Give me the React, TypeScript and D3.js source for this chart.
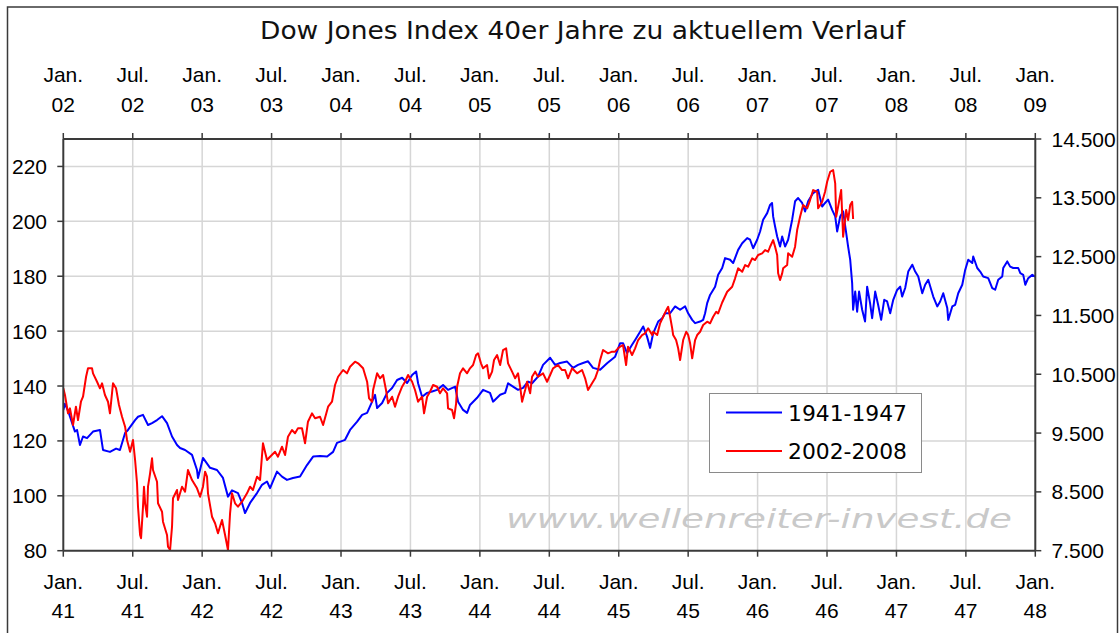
import React from "react";
import * as d3 from "d3";

// 1941-1947 Dow Jones (left axis), [decimal year, index]
const series1941: [number, number][] = [
  [1941.000, 131.3], [1941.012, 133.5], [1941.034, 131.0], [1941.084, 123.4], [1941.099, 124.0],
  [1941.120, 118.5], [1941.142, 121.6], [1941.171, 121.0], [1941.214, 123.4], [1941.264, 124.0],
  [1941.286, 116.7], [1941.336, 116.0], [1941.380, 117.2], [1941.408, 116.7], [1941.445, 122.9],
  [1941.466, 124.0], [1941.517, 127.6], [1941.538, 128.8], [1941.574, 129.5], [1941.610, 125.8],
  [1941.639, 126.5], [1941.675, 127.6], [1941.711, 129.0], [1941.747, 126.5], [1941.783, 121.6],
  [1941.819, 118.5], [1941.841, 117.4], [1941.877, 116.7], [1941.927, 114.9], [1941.963, 109.4],
  [1941.970, 106.5], [1942.006, 113.8], [1942.057, 110.2], [1942.107, 109.4], [1942.150, 106.5],
  [1942.186, 99.7], [1942.215, 102.0], [1942.258, 101.0], [1942.287, 97.4], [1942.309, 93.7],
  [1942.345, 97.4], [1942.395, 101.0], [1942.431, 104.0], [1942.467, 105.2], [1942.489, 102.8],
  [1942.539, 108.8], [1942.575, 107.0], [1942.611, 105.8], [1942.654, 106.5], [1942.705, 107.0],
  [1942.755, 111.2], [1942.799, 114.3], [1942.849, 114.5], [1942.900, 114.3], [1942.943, 116.0],
  [1942.971, 119.3], [1943.029, 120.4], [1943.065, 124.0], [1943.116, 127.0], [1943.152, 129.5],
  [1943.188, 130.2], [1943.224, 134.3], [1943.245, 136.8], [1943.260, 132.0], [1943.296, 133.8],
  [1943.332, 137.5], [1943.368, 139.3], [1943.404, 142.2], [1943.440, 143.0], [1943.476, 141.1],
  [1943.512, 144.0], [1943.541, 145.3], [1943.555, 141.0], [1943.584, 136.1], [1943.620, 137.5],
  [1943.656, 138.0], [1943.692, 138.6], [1943.735, 140.4], [1943.771, 138.6], [1943.822, 139.8],
  [1943.843, 134.3], [1943.879, 131.3], [1943.908, 130.2], [1943.929, 133.1], [1943.980, 135.7],
  [1944.023, 138.6], [1944.073, 137.5], [1944.095, 134.3], [1944.146, 136.8], [1944.182, 137.5],
  [1944.203, 141.0], [1944.239, 139.8], [1944.275, 138.6], [1944.311, 139.3], [1944.347, 141.6],
  [1944.376, 141.0], [1944.419, 143.4], [1944.455, 147.7], [1944.506, 150.3], [1944.542, 147.7],
  [1944.578, 148.4], [1944.628, 148.9], [1944.671, 146.6], [1944.707, 147.7], [1944.743, 148.4],
  [1944.779, 149.0], [1944.815, 146.6], [1944.866, 145.9], [1944.916, 148.3], [1944.974, 150.7],
  [1945.010, 155.6], [1945.031, 155.6], [1945.060, 152.0], [1945.096, 155.0], [1945.118, 156.8],
  [1945.154, 159.8], [1945.176, 161.7], [1945.204, 158.0], [1945.226, 153.9], [1945.248, 159.2],
  [1945.284, 163.5], [1945.313, 164.7], [1945.334, 166.5], [1945.370, 166.5], [1945.406, 169.0],
  [1945.442, 167.8], [1945.478, 169.0], [1945.500, 166.5], [1945.529, 164.1], [1945.550, 162.9],
  [1945.586, 163.5], [1945.608, 164.1], [1945.622, 166.5], [1945.637, 170.2], [1945.658, 173.2],
  [1945.694, 176.2], [1945.716, 180.5], [1945.745, 183.0], [1945.766, 186.6], [1945.802, 186.0],
  [1945.824, 184.8], [1945.860, 189.6], [1945.889, 192.0], [1945.925, 193.9], [1945.946, 193.3],
  [1945.968, 190.2], [1945.997, 193.3], [1946.018, 196.3], [1946.040, 200.6], [1946.069, 203.0],
  [1946.090, 206.0], [1946.104, 206.7], [1946.112, 201.8], [1946.126, 198.1], [1946.141, 194.5],
  [1946.162, 190.8], [1946.177, 194.5], [1946.198, 190.8], [1946.220, 193.3], [1946.249, 200.6],
  [1946.270, 207.3], [1946.292, 208.5], [1946.321, 206.7], [1946.342, 203.6], [1946.364, 207.3],
  [1946.400, 210.3], [1946.436, 211.5], [1946.465, 205.4], [1946.486, 206.7], [1946.508, 207.9],
  [1946.537, 204.2], [1946.559, 201.8], [1946.573, 196.3], [1946.595, 201.8], [1946.616, 203.6],
  [1946.638, 195.8], [1946.652, 190.8], [1946.667, 186.0], [1946.681, 177.5], [1946.688, 167.8],
  [1946.703, 174.4], [1946.717, 167.1], [1946.731, 174.4], [1946.753, 167.8], [1946.774, 163.5],
  [1946.789, 176.2], [1946.810, 170.2], [1946.825, 164.7], [1946.847, 174.4], [1946.868, 169.6],
  [1946.890, 164.1], [1946.912, 171.4], [1946.933, 170.8], [1946.955, 166.5], [1946.977, 171.4],
  [1947.005, 175.0], [1947.027, 176.2], [1947.041, 172.6], [1947.063, 175.7], [1947.085, 181.7],
  [1947.114, 184.2], [1947.135, 181.7], [1947.157, 179.9], [1947.186, 173.8], [1947.207, 176.9],
  [1947.229, 178.7], [1947.265, 172.6], [1947.294, 169.0], [1947.315, 170.8], [1947.337, 173.8],
  [1947.366, 168.4], [1947.373, 164.1], [1947.402, 169.0], [1947.423, 169.6], [1947.445, 173.8],
  [1947.474, 176.9], [1947.495, 182.3], [1947.517, 186.0], [1947.546, 184.8], [1947.553, 187.2],
  [1947.582, 183.0], [1947.603, 181.7], [1947.625, 179.9], [1947.661, 179.3], [1947.690, 175.7],
  [1947.711, 175.1], [1947.733, 178.7], [1947.762, 179.9], [1947.769, 183.0], [1947.798, 185.4],
  [1947.819, 183.5], [1947.841, 183.0], [1947.877, 183.0], [1947.892, 181.1], [1947.913, 180.5],
  [1947.928, 176.9], [1947.949, 179.3], [1947.978, 180.5], [1948.000, 179.9],
];

// 2002-2008 Dow Jones (right axis), [decimal year, index]
const series2002: [number, number][] = [
  [2002.000, 10261], [2002.012, 10147], [2002.034, 9836], [2002.048, 9921], [2002.070, 9637],
  [2002.091, 9948], [2002.106, 9722], [2002.127, 10033], [2002.142, 10118], [2002.164, 10458],
  [2002.178, 10601], [2002.207, 10601], [2002.214, 10516], [2002.243, 10373], [2002.264, 10261],
  [2002.279, 10346], [2002.300, 10147], [2002.322, 10033], [2002.336, 9836], [2002.358, 10346],
  [2002.380, 10261], [2002.401, 9977], [2002.423, 9778], [2002.445, 9608], [2002.459, 9382],
  [2002.481, 9183], [2002.502, 9382], [2002.517, 9042], [2002.531, 8646], [2002.538, 8248],
  [2002.553, 7767], [2002.560, 7711], [2002.574, 8248], [2002.581, 8588], [2002.589, 8306],
  [2002.603, 8078], [2002.610, 8588], [2002.625, 8816], [2002.639, 9071], [2002.646, 8872],
  [2002.675, 8673], [2002.682, 8306], [2002.711, 8163], [2002.718, 7993], [2002.747, 7767],
  [2002.754, 7568], [2002.769, 7512], [2002.783, 7908], [2002.790, 8391], [2002.819, 8532],
  [2002.826, 8362], [2002.855, 8588], [2002.877, 8503], [2002.898, 8872], [2002.927, 8702],
  [2002.963, 8561], [2002.985, 8418], [2003.006, 8588], [2003.021, 8843], [2003.035, 8758],
  [2003.042, 8476], [2003.071, 8078], [2003.093, 7966], [2003.114, 7796], [2003.143, 8022],
  [2003.165, 7767], [2003.186, 7512], [2003.201, 8136], [2003.215, 8476], [2003.237, 8306],
  [2003.258, 8248], [2003.287, 8333], [2003.323, 8476], [2003.345, 8588], [2003.366, 8532],
  [2003.395, 8758], [2003.417, 8702], [2003.438, 9326], [2003.467, 9042], [2003.489, 9098],
  [2003.525, 9183], [2003.546, 9098], [2003.575, 9268], [2003.597, 9127], [2003.618, 9438],
  [2003.647, 9552], [2003.669, 9496], [2003.690, 9581], [2003.719, 9581], [2003.741, 9326],
  [2003.762, 9693], [2003.791, 9836], [2003.813, 9751], [2003.849, 9778], [2003.871, 9637],
  [2003.907, 9948], [2003.935, 10033], [2003.957, 10317], [2003.979, 10458], [2004.015, 10572],
  [2004.043, 10516], [2004.065, 10628], [2004.101, 10713], [2004.123, 10686], [2004.159, 10601],
  [2004.188, 10373], [2004.202, 10091], [2004.224, 10033], [2004.231, 10232], [2004.260, 10516],
  [2004.281, 10431], [2004.303, 10487], [2004.324, 10232], [2004.339, 10006], [2004.368, 10118],
  [2004.389, 9948], [2004.411, 10118], [2004.440, 10288], [2004.461, 10373], [2004.483, 10487],
  [2004.512, 10373], [2004.533, 10232], [2004.555, 10033], [2004.584, 10118], [2004.598, 9836],
  [2004.620, 10118], [2004.641, 10203], [2004.663, 10317], [2004.692, 10288], [2004.713, 10176],
  [2004.735, 10261], [2004.764, 10176], [2004.771, 9921], [2004.800, 9892], [2004.814, 9751],
  [2004.829, 10006], [2004.836, 10288], [2004.857, 10516], [2004.879, 10601], [2004.908, 10516],
  [2004.929, 10601], [2004.951, 10657], [2004.973, 10827], [2004.987, 10856], [2005.008, 10686],
  [2005.023, 10601], [2005.052, 10657], [2005.066, 10431], [2005.088, 10544], [2005.102, 10742],
  [2005.124, 10827], [2005.146, 10657], [2005.167, 10912], [2005.189, 10941], [2005.203, 10686],
  [2005.232, 10544], [2005.254, 10431], [2005.275, 10516], [2005.290, 10288], [2005.304, 10033],
  [2005.326, 10232], [2005.340, 10373], [2005.362, 10176], [2005.376, 10458], [2005.398, 10544],
  [2005.419, 10458], [2005.455, 10516], [2005.484, 10373], [2005.506, 10487], [2005.527, 10601],
  [2005.563, 10657], [2005.592, 10572], [2005.614, 10572], [2005.635, 10431], [2005.664, 10601],
  [2005.700, 10516], [2005.736, 10572], [2005.758, 10431], [2005.779, 10232], [2005.808, 10346],
  [2005.830, 10431], [2005.851, 10572], [2005.866, 10742], [2005.887, 10912], [2005.923, 10856],
  [2005.952, 10884], [2005.974, 10884], [2005.995, 10941], [2006.010, 10969], [2006.031, 10997],
  [2006.053, 10657], [2006.067, 10969], [2006.096, 10827], [2006.118, 10941], [2006.140, 11082],
  [2006.168, 11167], [2006.190, 11196], [2006.212, 11281], [2006.241, 11167], [2006.248, 11223],
  [2006.277, 11167], [2006.298, 11366], [2006.320, 11478], [2006.349, 11620], [2006.356, 11648],
  [2006.370, 11478], [2006.385, 11281], [2006.392, 11167], [2006.413, 11082], [2006.428, 10941],
  [2006.442, 10742], [2006.464, 11082], [2006.486, 11223], [2006.500, 11167], [2006.514, 11026],
  [2006.529, 10771], [2006.550, 11082], [2006.565, 11167], [2006.586, 11223], [2006.608, 11337],
  [2006.637, 11393], [2006.658, 11366], [2006.680, 11478], [2006.702, 11563], [2006.716, 11535],
  [2006.745, 11720], [2006.781, 11903], [2006.817, 11988], [2006.838, 12131], [2006.860, 12301],
  [2006.889, 12243], [2006.910, 12357], [2006.932, 12328], [2006.961, 12471], [2006.982, 12442],
  [2007.004, 12527], [2007.033, 12556], [2007.054, 12612], [2007.076, 12583], [2007.090, 12668],
  [2007.112, 12782], [2007.126, 12668], [2007.141, 12527], [2007.148, 12216], [2007.162, 12102],
  [2007.177, 12216], [2007.184, 12301], [2007.213, 12357], [2007.220, 12556], [2007.249, 12498],
  [2007.270, 12668], [2007.285, 12952], [2007.306, 13178], [2007.328, 13377], [2007.357, 13321],
  [2007.378, 13462], [2007.400, 13632], [2007.429, 13603], [2007.436, 13321], [2007.465, 13433],
  [2007.486, 13603], [2007.501, 13773], [2007.523, 13943], [2007.544, 13972], [2007.559, 13746],
  [2007.566, 13178], [2007.580, 13350], [2007.602, 13632], [2007.616, 12838], [2007.638, 13292],
  [2007.652, 13122], [2007.667, 13377], [2007.681, 13433], [2007.688, 13139],
];

const leftTicks = [80, 100, 120, 140, 160, 180, 200, 220];
const rightTicks = [7500, 8500, 9500, 10500, 11500, 12500, 13500, 14500];
const bottomYears = ["41", "41", "42", "42", "43", "43", "44", "44", "45", "45", "46", "46", "47", "47", "48"];
const topYears = ["02", "02", "03", "03", "04", "04", "05", "05", "06", "06", "07", "07", "08", "08", "09"];
const monthLabels = ["Jan.", "Jul."];
const legendLabels = ["1941-1947", "2002-2008"];
const seriesColors = ["#0000ff", "#ff0000"];
const titleText = "Dow Jones Index 40er Jahre zu aktuellem Verlauf";
const watermark = "www.wellenreiter-invest.de";

const W = 1119;
const H = 633;
const L = 63.3;
const R = 1035.3;
const T = 139;
const B = 550.7;

export default function App() {
  const xBottom = d3.scaleLinear().domain([1941, 1948]).range([L, R]);
  const xTop = d3.scaleLinear().domain([2002, 2009]).range([L, R]);
  const yLeft = d3.scaleLinear().domain([80, 230]).range([B, T]);
  const yRight = d3.scaleLinear().domain([7500, 14500]).range([B, T]);

  const lineBlue = d3
    .line<[number, number]>()
    .x((d) => xBottom(d[0]))
    .y((d) => yLeft(d[1]));
  const lineRed = d3
    .line<[number, number]>()
    .x((d) => xTop(d[0]))
    .y((d) => yRight(d[1]));

  const halfTicks = d3.range(15).map((i) => i / 2);
  const fmtRight = (v: number) => d3.format(",")(v).replace(",", ".");
  const tickFont = "'Liberation Sans', Arial, sans-serif";
  const axisColor = "#3a3a3a";
  const gridColor = "#d6d6d6";

  return (
    <svg
      width={W}
      height={H}
      style={{ position: "absolute", left: 0, top: 0, background: "#fff" }}
    >
      <defs>
        <clipPath id="plotClip">
          <rect x={L} y={T - 1} width={R - L} height={B - T + 2} />
        </clipPath>
      </defs>
      <rect x={0} y={0} width={W} height={H} fill="#fff" />
      {/* outer frame */}
      <rect x={7.5} y={7} width={1110} height={640} fill="none" stroke="#3a3a3a" strokeWidth={1.5} />
      <line x1={1118.5} y1={7} x2={1118.5} y2={H} stroke="#d0d0d0" strokeWidth={1} />

      {/* title */}
      <text
        x={260}
        y={39}
        fontFamily="'DejaVu Sans', Verdana, sans-serif"
        fontSize={24}
        textLength={645}
        lengthAdjust="spacingAndGlyphs"
        fill="#111"
      >
        {titleText}
      </text>

      {/* gridlines */}
      {halfTicks.slice(1, 14).map((t) => (
        <line
          key={"vg" + t}
          x1={xBottom(1941 + t)}
          x2={xBottom(1941 + t)}
          y1={T}
          y2={B}
          stroke={gridColor}
          strokeWidth={1.5}
        />
      ))}
      {leftTicks.slice(1).map((v) => (
        <line key={"hg" + v} x1={L} x2={R} y1={yLeft(v)} y2={yLeft(v)} stroke={gridColor} strokeWidth={1.5} />
      ))}

      {/* watermark */}
      <text
        x={506}
        y={528}
        fontFamily="'DejaVu Sans', Verdana, sans-serif"
        fontStyle="italic"
        fontSize={27}
        textLength={506}
        lengthAdjust="spacingAndGlyphs"
        fill="#c9c9c9"
      >
        {watermark}
      </text>

      {/* series */}
      <g clipPath="url(#plotClip)">
        <path d={lineBlue(series1941) || ""} fill="none" stroke={seriesColors[0]} strokeWidth={2} strokeLinejoin="round" />
        <path d={lineRed(series2002) || ""} fill="none" stroke={seriesColors[1]} strokeWidth={2} strokeLinejoin="round" />
      </g>

      {/* axes frame */}
      <line x1={L} x2={R} y1={T} y2={T} stroke={axisColor} strokeWidth={2} />
      <line x1={L} x2={R} y1={B} y2={B} stroke={axisColor} strokeWidth={2} />
      <line x1={L} x2={L} y1={T} y2={B} stroke={axisColor} strokeWidth={2} />
      <line x1={R} x2={R} y1={T} y2={B} stroke={axisColor} strokeWidth={2} />

      {/* bottom axis */}
      {halfTicks.map((t, i) => {
        const x = xBottom(1941 + t);
        return (
          <g key={"bt" + i}>
            <line x1={x} x2={x} y1={B} y2={B + 6} stroke={axisColor} strokeWidth={1.5} />
            <text x={x} y={589} textAnchor="middle" fontFamily={tickFont} fontSize={21} fill="#000">
              {monthLabels[i % 2]}
            </text>
            <text x={x} y={618} textAnchor="middle" fontFamily={tickFont} fontSize={21} fill="#000">
              {bottomYears[i]}
            </text>
          </g>
        );
      })}

      {/* top axis */}
      {halfTicks.map((t, i) => {
        const x = xTop(2002 + t);
        return (
          <g key={"tt" + i}>
            <line x1={x} x2={x} y1={T - 6} y2={T} stroke={axisColor} strokeWidth={1.5} />
            <text x={x} y={82} textAnchor="middle" fontFamily={tickFont} fontSize={21} fill="#000">
              {monthLabels[i % 2]}
            </text>
            <text x={x} y={111.5} textAnchor="middle" fontFamily={tickFont} fontSize={21} fill="#000">
              {topYears[i]}
            </text>
          </g>
        );
      })}

      {/* left axis */}
      {leftTicks.map((v) => (
        <g key={"lt" + v}>
          <line x1={L - 6} x2={L} y1={yLeft(v)} y2={yLeft(v)} stroke={axisColor} strokeWidth={1.5} />
          <text x={47} y={yLeft(v) + 7.5} textAnchor="end" fontFamily={tickFont} fontSize={21} fill="#000">
            {v}
          </text>
        </g>
      ))}

      {/* right axis */}
      {rightTicks.map((v) => (
        <g key={"rt" + v}>
          <line x1={R} x2={R + 6} y1={yRight(v)} y2={yRight(v)} stroke={axisColor} strokeWidth={1.5} />
          <text x={1051.5} y={yRight(v) + 7.5} textAnchor="start" fontFamily={tickFont} fontSize={21} fill="#000">
            {fmtRight(v)}
          </text>
        </g>
      ))}

      {/* legend */}
      <g>
        <rect x={709.5} y={393.5} width={212} height={79} fill="#fff" stroke="#8a8a8a" strokeWidth={1} />
        {legendLabels.map((lab, i) => {
          const y = 412.5 + i * 38.5;
          return (
            <g key={lab}>
              <line x1={726} x2={782} y1={y} y2={y} stroke={seriesColors[i]} strokeWidth={2} />
              <text
                x={788}
                y={y + 8}
                fontFamily="'DejaVu Sans', Verdana, sans-serif"
                fontSize={21}
                textLength={119}
                lengthAdjust="spacingAndGlyphs"
                fill="#000"
              >
                {lab}
              </text>
            </g>
          );
        })}
      </g>
    </svg>
  );
}
